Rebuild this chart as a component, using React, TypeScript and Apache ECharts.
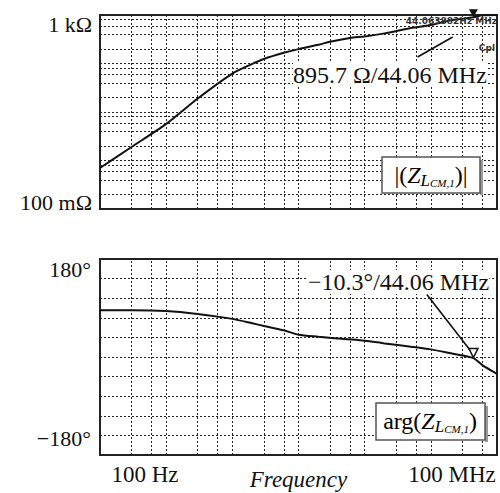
import React, { useEffect, useRef } from 'react';
import * as echarts from 'echarts';

const SERIF = '"Liberation Serif", "Times New Roman", serif';

// |Z| trace (frequency in Hz, magnitude in ohm)
const magFreq = [100, 300, 1e3, 3e3, 1e4, 2e4, 3e4, 6e4, 1e5, 2e5, 3e5, 6e5, 1e6, 2e6, 5e6, 1e7, 2e7, 4.406e7, 6e7, 1e8];
const magOhm = [0.7, 1.9, 5.7, 19, 62, 98, 124, 166, 198, 243, 282, 336, 362, 418, 537, 620, 775, 895.7, 985, 1000];

// arg(Z) trace (frequency in Hz, phase in degrees)
const phaseFreq = [100, 300, 1e3, 3e3, 1e4, 2e4, 3e4, 6e4, 1e5, 2e5, 5e5, 1e6, 2e6, 5e6, 1e7, 2e7, 4.406e7, 6e7, 1e8];
const phaseDeg = [86, 86, 84.5, 79, 70, 62, 57, 49, 41, 37.3, 33, 30, 25, 19, 14, 6.7, -2, -15, -31];

// axis tick labels
const freqTickValues = [100, 1e8];
const freqTickLabels = ['100 Hz', '100 MHz'];
const magTickValues = [0.1, 1000];
const magTickLabels = ['100 m\u03A9', '1 k\u03A9'];
const phaseTickValues = [-180, 180];
const phaseTickLabels = ['\u2212180\u00B0', '180\u00B0'];

// analyser grid lines
const freqDecades = [100, 1e3, 1e4, 1e5, 1e6, 1e7];
const freqSubMultiples = [3, 6];
const magDecades = [0.1, 1, 10, 100];
const magSubMultiples = [2, 4, 6, 8];

// markers
const markerFreq = 4.406e7;
const markerMag = 895.7;
const markerPhase = -2;
const magMarkerText = '895.7 \u03A9/44.06 MHz';
const phaseMarkerText = '\u221210.3\u00B0/44.06 MHz';
const magLeaderLine = [[6.3e6, 136], [2.14e7, 352]];
const phaseLeaderLine = [[8.7e6, 115], [3.9e7, 13]];

const GRID_STYLE = { type: [2, 2], color: '#222', width: 1 };

function sameLog(a: number, b: number) {
  return Math.abs(Math.log10(a) - Math.log10(b)) < 1e-6;
}

function verticalGridLines() {
  const out: any[] = [];
  freqDecades.forEach((d, i) => {
    if (i > 0) out.push({ xAxis: d });
    freqSubMultiples.forEach((m) => out.push({ xAxis: d * m }));
  });
  return out;
}

function magHorizontalLines() {
  const out: any[] = [];
  magDecades.forEach((d, i) => {
    if (i > 0) out.push({ yAxis: d });
    magSubMultiples.forEach((m) => out.push({ yAxis: d * m }));
  });
  return out;
}

function leader(pts: number[][]) {
  return [
    { coord: pts[0], lineStyle: { type: 'solid', color: '#111', width: 1.6 } },
    { coord: pts[1] },
  ];
}

export default function App() {
  const ref = useRef<HTMLDivElement>(null);

  useEffect(() => {
    if (!ref.current) return;
    const chart = echarts.init(ref.current, undefined, { renderer: 'svg' });

    const labelBase = { fontFamily: SERIF, color: '#111' };

    const option: any = {
      animation: false,
      backgroundColor: '#fff',
      textStyle: { fontFamily: SERIF },
      grid: [
        { left: 100, top: 15, width: 397, height: 194, show: true, borderColor: '#222', borderWidth: 2, backgroundColor: '#fff', outerBoundsMode: 'none', containLabel: false },
        { left: 100, top: 259, width: 397, height: 196, show: true, borderColor: '#222', borderWidth: 2, backgroundColor: '#fff', outerBoundsMode: 'none', containLabel: false },
      ],
      xAxis: [
        {
          type: 'log', logBase: 10, min: 100, max: 1e8, gridIndex: 0,
          axisLine: { show: false }, axisTick: { show: false }, axisLabel: { show: false }, splitLine: { show: false },
        },
        {
          type: 'log', logBase: 10, min: 100, max: 1e8, gridIndex: 1,
          axisLine: { show: false }, axisTick: { show: false }, splitLine: { show: false },
          name: 'Frequency', nameLocation: 'middle', nameGap: 13, nameMoveOverlap: false,
          nameTextStyle: { fontFamily: SERIF, fontStyle: 'italic', fontSize: 23, color: '#111', verticalAlign: 'top' },
          axisLabel: {
            margin: 8,
            fontSize: 23, ...labelBase,
            formatter: (v: number) => {
              const i = freqTickValues.findIndex((t) => sameLog(t, v));
              if (i < 0) return '';
              return `{${i === 0 ? 'l' : 'r'}|${freqTickLabels[i]}}`;
            },
            rich: {
              l: { fontSize: 23, ...labelBase, padding: [0, 0, 0, 90] },
              r: { fontSize: 23, ...labelBase, padding: [0, 90, 0, 0] },
            },
          },
        },
      ],
      yAxis: [
        {
          type: 'log', logBase: 10, min: 0.1, max: 1000, gridIndex: 0,
          axisLine: { show: false }, axisTick: { show: false }, splitLine: { show: false },
          axisLabel: {
            margin: 8, fontSize: 22, ...labelBase,
            formatter: (v: number) => {
              const i = magTickValues.findIndex((t) => sameLog(t, v));
              if (i < 0) return '';
              return `{${i === 0 ? 'b' : 't'}|${magTickLabels[i]}}`;
            },
            rich: {
              t: { fontSize: 22, ...labelBase, padding: [18, 0, 0, 0] },
              b: { fontSize: 22, ...labelBase, padding: [0, 0, 14, 0] },
            },
          },
        },
        {
          type: 'value', min: -180, max: 180, interval: 36, gridIndex: 1,
          axisLine: { show: false }, axisTick: { show: false },
          splitLine: { show: true, lineStyle: GRID_STYLE },
          axisLabel: {
            margin: 9, fontSize: 22, ...labelBase,
            formatter: (v: number) => {
              const i = phaseTickValues.indexOf(v);
              if (i < 0) return '';
              return `{${i === 0 ? 'b' : 't'}|${phaseTickLabels[i]}}`;
            },
            rich: {
              t: { fontSize: 22, ...labelBase, padding: [20, 0, 0, 0] },
              b: { fontSize: 22, ...labelBase, padding: [0, 0, 34, 0] },
            },
          },
        },
      ],
      series: [
        {
          type: 'line', xAxisIndex: 0, yAxisIndex: 0, data: [], silent: true, z: 1,
          markLine: {
            silent: true, symbol: ['none', 'none'], label: { show: false }, lineStyle: GRID_STYLE,
            data: [...verticalGridLines(), ...magHorizontalLines()],
          },
        },
        {
          type: 'line', xAxisIndex: 1, yAxisIndex: 1, data: [], silent: true, z: 1,
          markLine: {
            silent: true, symbol: ['none', 'none'], label: { show: false }, lineStyle: GRID_STYLE,
            data: verticalGridLines(),
          },
        },
        {
          type: 'line', xAxisIndex: 0, yAxisIndex: 0, z: 3,
          data: magFreq.map((f, i) => [f, magOhm[i]]),
          showSymbol: false, smooth: 0.25,
          lineStyle: { color: '#111', width: 2 },
          markLine: {
            silent: true, symbol: ['none', 'none'], label: { show: false },
            data: [leader(magLeaderLine)],
          },
          markPoint: {
            silent: true,
            data: [{ coord: [markerFreq, markerMag], symbol: 'triangle', symbolRotate: 180, symbolSize: [9, 8], symbolOffset: [0, -4], itemStyle: { color: '#111' }, label: { show: false } }],
          },
        },
        {
          type: 'line', xAxisIndex: 1, yAxisIndex: 1, z: 3,
          data: phaseFreq.map((f, i) => [f, phaseDeg[i]]),
          showSymbol: false, smooth: 0.25,
          lineStyle: { color: '#111', width: 2 },
          markLine: {
            silent: true, symbol: ['none', 'none'], label: { show: false },
            data: [leader(phaseLeaderLine)],
          },
          markPoint: {
            silent: true,
            data: [{ coord: [markerFreq, markerPhase], symbol: 'triangle', symbolRotate: 180, symbolSize: [9, 9], symbolOffset: [0, -5], itemStyle: { color: '#fff', borderColor: '#111', borderWidth: 1.5 }, label: { show: false } }],
          },
        },
      ],
      graphic: [
        { type: 'text', x: 293, y: 75, z: 10, style: { text: magMarkerText, font: `24px ${SERIF}`, fill: '#111', verticalAlign: 'middle', align: 'left', backgroundColor: '#fff' } },
        { type: 'text', x: 308, y: 282, z: 10, style: { text: phaseMarkerText, font: `24px ${SERIF}`, fill: '#111', verticalAlign: 'middle', align: 'left', backgroundColor: '#fff' } },
        { type: 'text', x: 497, y: 21, z: 10, style: { text: '44.063882Hz MHz', font: 'bold 9px "DejaVu Sans"', fill: '#333', verticalAlign: 'middle', align: 'right' } },
        { type: 'text', x: 495, y: 48, z: 10, style: { text: 'Cpl', font: 'bold 9px "DejaVu Sans"', fill: '#333', verticalAlign: 'middle', align: 'right' } },
        { type: 'rect', z: 10, shape: { x: 480, y: 160, width: 3, height: 35 }, style: { fill: '#999' } },
        { type: 'rect', z: 11, shape: { x: 382, y: 157, width: 98, height: 36 }, style: { fill: '#fff', stroke: '#555', lineWidth: 1.5 } },
        {
          type: 'text', x: 431, y: 175, z: 12,
          style: {
            text: '{m||(}{z|Z}{l|L}{c|CM,1}{m|)|}', align: 'center', verticalAlign: 'middle',
            rich: {
              m: { fontFamily: SERIF, fontSize: 24, color: '#111' },
              z: { fontFamily: SERIF, fontSize: 24, fontStyle: 'italic', color: '#111' },
              l: { fontFamily: SERIF, fontSize: 17, fontStyle: 'italic', color: '#111', padding: [10, 0, 0, 0] },
              c: { fontFamily: SERIF, fontSize: 11, fontStyle: 'italic', color: '#111', padding: [16, 0, 0, 0] },
            },
          },
        },
        { type: 'rect', z: 10, shape: { x: 485, y: 406, width: 3, height: 36 }, style: { fill: '#999' } },
        { type: 'rect', z: 11, shape: { x: 376, y: 403, width: 109, height: 37 }, style: { fill: '#fff', stroke: '#555', lineWidth: 1.5 } },
        {
          type: 'text', x: 430, y: 421, z: 12,
          style: {
            text: '{m|arg(}{z|Z}{l|L}{c|CM,1}{m|)}', align: 'center', verticalAlign: 'middle',
            rich: {
              m: { fontFamily: SERIF, fontSize: 24, color: '#111' },
              z: { fontFamily: SERIF, fontSize: 24, fontStyle: 'italic', color: '#111' },
              l: { fontFamily: SERIF, fontSize: 17, fontStyle: 'italic', color: '#111', padding: [10, 0, 0, 0] },
              c: { fontFamily: SERIF, fontSize: 11, fontStyle: 'italic', color: '#111', padding: [16, 0, 0, 0] },
            },
          },
        },
      ],
    };

    chart.setOption(option);
    return () => chart.dispose();
  }, []);

  return (
    <div
      ref={ref}
      style={{ position: 'fixed', left: 0, top: 0, width: 500, height: 493, background: '#fff' }}
    />
  );
}
